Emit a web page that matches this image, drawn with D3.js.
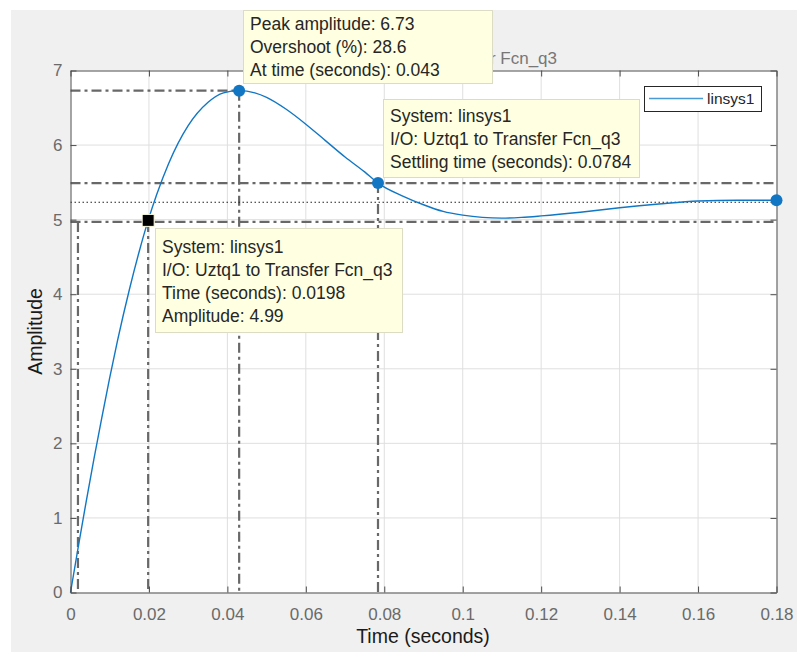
<!DOCTYPE html>
<html>
<head>
<meta charset="utf-8">
<script src="https://cdn.jsdelivr.net/npm/d3@7/dist/d3.min.js"></script>
<style>
  body { margin: 0; background: #fff; }
  svg text { font-family: "Liberation Sans", Arial, sans-serif; }
</style>
</head>
<body>
<div id="chart"></div>
<script>
// step response samples
const timeS = [0, 0.002, 0.004, 0.006, 0.008, 0.010, 0.012, 0.015, 0.0175, 0.0198, 0.022, 0.025,
  0.030, 0.035, 0.039, 0.043, 0.047, 0.050, 0.055, 0.060, 0.065, 0.070, 0.075, 0.0784,
  0.085, 0.090, 0.095, 0.100, 0.105, 0.110, 0.115, 0.120, 0.130, 0.140, 0.150, 0.160, 0.170, 0.180];
const amplitude = [0, 0.62, 1.22, 1.80, 2.35, 2.88, 3.38, 4.06, 4.57, 4.99, 5.34, 5.75,
  6.26, 6.57, 6.70, 6.73, 6.70, 6.64, 6.48, 6.28, 6.06, 5.84, 5.64, 5.49,
  5.31, 5.20, 5.11, 5.06, 5.03, 5.02, 5.03, 5.05, 5.10, 5.16, 5.21, 5.25, 5.26, 5.26];

const xTicks = [0, 0.02, 0.04, 0.06, 0.08, 0.1, 0.12, 0.14, 0.16, 0.18];
const yTicks = [0, 1, 2, 3, 4, 5, 6, 7];

// characteristic points [time, amplitude]
const peakPoint = [0.043, 6.73];
const settlePoint = [0.0784, 5.49];
const markPoint = [0.0198, 4.99];
const endPoint = [0.18, 5.26];
const finalValue = 5.233;
const bandLevels = [4.97, 5.49];
const riseStart = 0.0019;

const titleText = "From: Uztq1  To: Transfer Fcn_q3";
const legendLabels = ["linsys1"];
const peakTip = ["Peak amplitude: 6.73", "Overshoot (%): 28.6", "At time (seconds): 0.043"];
const settleTip = ["System: linsys1", "I/O: Uztq1 to Transfer Fcn_q3", "Settling time (seconds): 0.0784"];
const markTip = ["System: linsys1", "I/O: Uztq1 to Transfer Fcn_q3", "Time (seconds): 0.0198", "Amplitude: 4.99"];

const W = 797, H = 652;
const blue = "#1177c4";
const charColor = "#686868";
const axisColor = "#4d4d4d";
const tickText = "#6a6a6a";

const svg = d3.select("#chart").append("svg")
  .attr("width", W).attr("height", H)
  .attr("viewBox", `0 0 ${W} ${H}`);

// figure background
svg.append("rect").attr("x", 11).attr("y", 10).attr("width", W - 11).attr("height", H - 10)
  .attr("fill", "#f0f0f0");

const x = d3.scaleLinear().domain([0, 0.18]).range([70.5, 776.5]);
const y = d3.scaleLinear().domain([0, 7]).range([592.5, 70.5]);

// title (mostly hidden by datatip)
svg.append("text").attr("x", 557).attr("y", 64).attr("text-anchor", "end")
  .attr("font-size", 17).attr("fill", "#777").text(titleText);

// axes area
svg.append("rect").attr("x", x(0)).attr("y", y(7)).attr("width", x(0.18) - x(0)).attr("height", y(0) - y(7))
  .attr("fill", "#fff");

// grid
const grid = svg.append("g").attr("stroke", "#dfdfdf").attr("stroke-width", 1);
grid.selectAll(".gx").data(xTicks.slice(1, -1)).join("line")
  .attr("x1", d => x(d)).attr("x2", d => x(d)).attr("y1", y(0)).attr("y2", y(7));
grid.selectAll(".gy").data(yTicks.slice(1, -1)).join("line")
  .attr("x1", x(0)).attr("x2", x(0.18)).attr("y1", d => y(d)).attr("y2", d => y(d));

// characteristic lines
const dashDot = "10,4,3,4";
const chars = svg.append("g").attr("stroke", charColor).attr("stroke-width", 2.2).attr("fill", "none");
const hLines = [
  [0, 0.18, bandLevels[1]],
  [0, 0.18, bandLevels[0]],
  [0, peakPoint[0], peakPoint[1]]
];
chars.selectAll(".h").data(hLines).join("line")
  .attr("x1", d => x(d[0])).attr("x2", d => x(d[1]))
  .attr("y1", d => y(d[2])).attr("y2", d => y(d[2]))
  .attr("stroke-dasharray", dashDot);
const vLines = [
  [riseStart, bandLevels[0]],
  [markPoint[0], bandLevels[0]],
  [peakPoint[0], peakPoint[1]],
  [settlePoint[0], settlePoint[1]]
];
chars.selectAll(".v").data(vLines).join("line")
  .attr("x1", d => x(d[0])).attr("x2", d => x(d[0]))
  .attr("y1", d => y(d[1])).attr("y2", y(0))
  .attr("stroke-dasharray", dashDot);
svg.append("line")
  .attr("x1", x(0)).attr("x2", x(0.18)).attr("y1", y(finalValue)).attr("y2", y(finalValue))
  .attr("stroke", "#222").attr("stroke-width", 1.2).attr("stroke-dasharray", "1.5,2.5");

// response curve
const data = timeS.map((t, i) => ({t, a: amplitude[i]}));
svg.append("path").datum(data)
  .attr("fill", "none").attr("stroke", blue).attr("stroke-width", 1.4)
  .attr("d", d3.line().x(d => x(d.t)).y(d => y(d.a)).curve(d3.curveMonotoneX));

// axes
const axG = svg.append("g").attr("color", axisColor);
axG.append("g").attr("transform", `translate(0,${y(0)})`)
  .call(d3.axisBottom(x).tickValues(xTicks).tickFormat(d3.format("~g")).tickSizeInner(-6).tickSizeOuter(0).tickPadding(15));
axG.append("g").attr("transform", `translate(${x(0)},0)`)
  .call(d3.axisLeft(y).tickValues(yTicks).tickFormat(d3.format("d")).tickSizeInner(-6).tickSizeOuter(0).tickPadding(8));
axG.append("g").attr("transform", `translate(0,${y(7)})`)
  .call(d3.axisTop(x).tickValues(xTicks).tickFormat("").tickSizeInner(-6).tickSizeOuter(0));
axG.append("g").attr("transform", `translate(${x(0.18)},0)`)
  .call(d3.axisRight(y).tickValues(yTicks).tickFormat("").tickSizeInner(-6).tickSizeOuter(0));
axG.selectAll("text").attr("font-size", 17).attr("fill", tickText)
  .style("font-family", '"Liberation Sans", Arial, sans-serif');

// axis labels
svg.append("text").attr("x", 423).attr("y", 643).attr("text-anchor", "middle")
  .attr("font-size", 19.5).attr("fill", "#1a1a1a").text("Time (seconds)");
svg.append("text").attr("transform", `translate(42,${(y(0) + y(7)) / 2}) rotate(-90)`)
  .attr("text-anchor", "middle").attr("font-size", 19.5).attr("fill", "#1a1a1a").text("Amplitude");

// markers
svg.selectAll(".dot").data([peakPoint, settlePoint, endPoint]).join("circle")
  .attr("cx", d => x(d[0])).attr("cy", d => y(d[1])).attr("r", 6)
  .attr("fill", blue);
svg.append("rect")
  .attr("x", x(markPoint[0]) - 6).attr("y", y(markPoint[1]) - 6).attr("width", 12).attr("height", 12)
  .attr("fill", "#000").attr("stroke", "#ffffe1").attr("stroke-width", 1);

// legend
const leg = svg.append("g");
leg.append("rect").attr("x", 644.5).attr("y", 86.5).attr("width", 117).attr("height", 25)
  .attr("fill", "#fff").attr("stroke", "#262626").attr("stroke-width", 1);
leg.append("line").attr("x1", 649).attr("x2", 703).attr("y1", 98.5).attr("y2", 98.5)
  .attr("stroke", "#4a9ad6").attr("stroke-width", 1.4);
leg.selectAll("text").data(legendLabels).join("text")
  .attr("x", 707).attr("y", 104).attr("font-size", 15.5).attr("fill", "#262626").text(d => d);

// datatips
function dataTip(x0, y0, w, h, lines, firstBase) {
  const g = svg.append("g");
  g.append("rect").attr("x", x0 + 0.5).attr("y", y0 + 0.5).attr("width", w).attr("height", h)
    .attr("fill", "#ffffe1").attr("stroke", "#dcdcc4").attr("stroke-width", 1);
  g.selectAll("text").data(lines).join("text")
    .attr("x", x0 + 7).attr("y", (d, i) => firstBase + i * 23)
    .attr("font-size", 17.5).attr("fill", "#262626").text(d => d);
}
dataTip(243, 10, 249, 73, peakTip, 30);
dataTip(383, 99, 256, 78, settleTip, 122);
dataTip(155, 228, 247, 104, markTip, 253);
</script>
</body>
</html>
